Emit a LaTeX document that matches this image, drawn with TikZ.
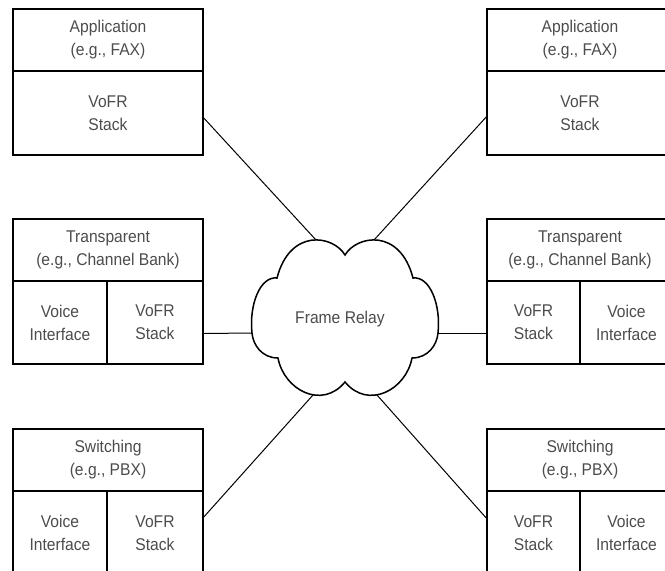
\documentclass[tikz,border=0pt]{standalone}
\usepackage{fontspec}
\setmainfont{Liberation Sans}[FakeStretch=0.92]
\begin{document}
\begin{tikzpicture}[x=1pt,y=-1pt,
  cell/.style={draw=black, line width=1.6pt, align=center, inner sep=0pt,
    text=black!70, font=\fontsize{17}{23}\selectfont},
  link/.style={line width=1pt, draw=black},
  cloudline/.style={line width=1.5pt, draw=black, fill=white},
  lbl/.style={text=black!70, font=\fontsize{17}{23}\selectfont, inner sep=0pt}]
\useasboundingbox (0,0) rectangle (665,571);
\clip (0,0) rectangle (665,571);

% left column
\node[cell, minimum width=190pt, minimum height=62pt] (lta) at (108,40) {Application\\(e.g., FAX)};
\node[cell, minimum width=190pt, minimum height=84pt] (ltb) at (108,113) {VoFR\\Stack};

\node[cell, minimum width=190pt, minimum height=62pt] (lma) at (108,250) {Transparent\\(e.g., Channel Bank)};
\node[cell, minimum width=94pt, minimum height=83pt] (lmb) at (60,322.5) {Voice\\Interface};
\node[cell, minimum width=96pt, minimum height=83pt] (lmc) at (155,322.5) {VoFR\\Stack};

\node[cell, minimum width=190pt, minimum height=62pt] (lba) at (108,460) {Switching\\(e.g., PBX)};
\node[cell, minimum width=94pt, minimum height=84pt] (lbb) at (60,533) {Voice\\Interface};
\node[cell, minimum width=96pt, minimum height=84pt] (lbc) at (155,533) {VoFR\\Stack};

% right column
\node[cell, minimum width=186pt, minimum height=62pt] (rta) at (580,40) {Application\\(e.g., FAX)};
\node[cell, minimum width=186pt, minimum height=84pt] (rtb) at (580,113) {VoFR\\Stack};

\node[cell, minimum width=186pt, minimum height=62pt] (rma) at (580,250) {Transparent\\(e.g., Channel Bank)};
\node[cell, minimum width=93pt, minimum height=83pt] (rmb) at (533.5,322.5) {VoFR\\Stack};
\node[cell, minimum width=93pt, minimum height=83pt] (rmc) at (626.5,322.5) {Voice\\Interface};

\node[cell, minimum width=186pt, minimum height=62pt] (rba) at (580,460) {Switching\\(e.g., PBX)};
\node[cell, minimum width=93pt, minimum height=84pt] (rbb) at (533.5,533) {VoFR\\Stack};
\node[cell, minimum width=93pt, minimum height=84pt] (rbc) at (626.5,533) {Voice\\Interface};

% cloud
\draw[cloudline] (345,255) .. controls (333,235) and (290,228) .. (277,278)
  .. controls (260,276) and (249,305) .. (252,333)
  .. controls (253,345) and (262,358) .. (278,358)
  .. controls (284,390) and (322,410) .. (345,382)
  .. controls (368,410) and (406,390) .. (412,358)
  .. controls (428,358) and (437,345) .. (438,333)
  .. controls (441,305) and (430,276) .. (413,278)
  .. controls (400,228) and (357,235) .. (345,255) -- cycle;
\node[lbl] (fr) at (340,319) {Frame Relay};

\coordinate (ctl) at (316,240);
\coordinate (ctr) at (374,240);
\coordinate (cl) at (252,333);
\coordinate (cr) at (438,333);
\coordinate (cbl) at (313,395);
\coordinate (cbr) at (377,395);

% connectors
\draw[link] ([yshift=-5pt]ltb.east) -- (ctl);
\draw[link] ([yshift=-4pt]rtb.west) -- (ctr);
\draw[link] ([yshift=-11pt]lmc.east) -- (cl);
\draw[link] ([yshift=-10.5pt]rmb.west) -- (cr);
\draw[link] ([yshift=16pt]lbc.east) -- (cbl);
\draw[link] ([yshift=15pt]rbb.west) -- (cbr);
\end{tikzpicture}
\end{document}
